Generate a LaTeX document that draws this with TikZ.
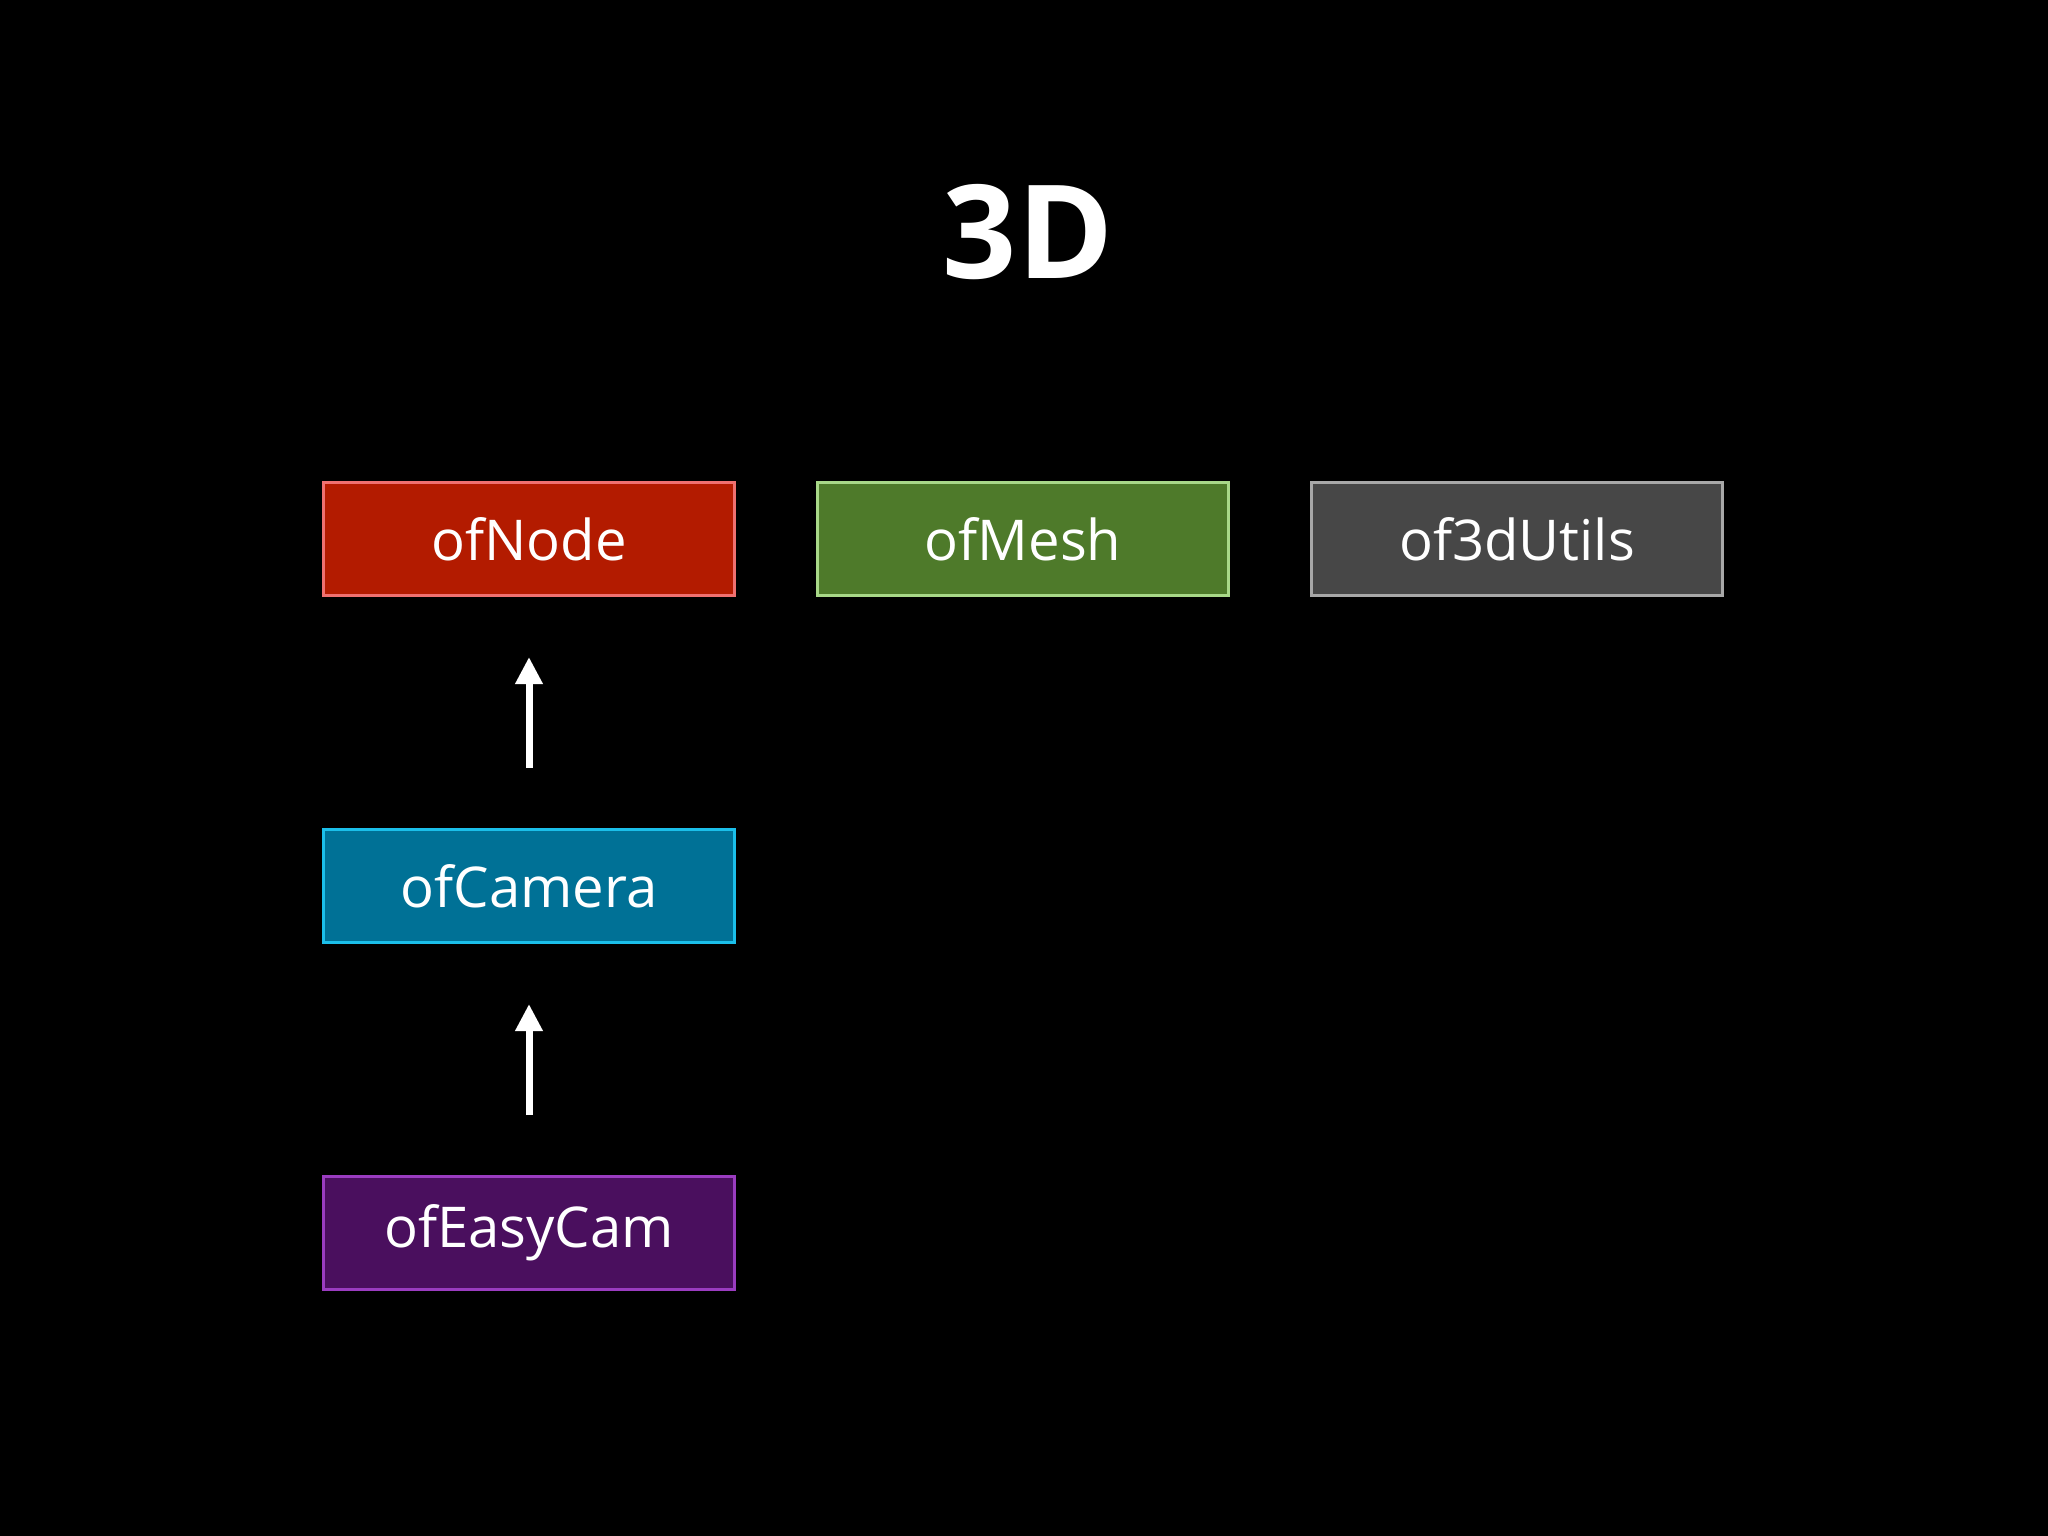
\documentclass[tikz,border=0pt]{standalone}
\usepackage{fontspec}
\setmainfont{Open Sans}
\usepackage{tikz}
\usetikzlibrary{positioning,arrows.meta}
\definecolor{noderd}{RGB}{179, 27, 0}
\definecolor{noderdline}{RGB}{240, 112, 112}
\definecolor{meshgr}{RGB}{78, 122, 42}
\definecolor{meshgrline}{RGB}{168, 216, 136}
\definecolor{utilgy}{RGB}{71, 71, 71}
\definecolor{utilgyline}{RGB}{168, 168, 168}
\definecolor{cambl}{RGB}{0, 113, 150}
\definecolor{camblline}{RGB}{27, 191, 234}
\definecolor{easypu}{RGB}{74, 15, 94}
\definecolor{easypuline}{RGB}{154, 60, 192}

\begin{document}
\begin{tikzpicture}[
    hdist/.style={right=0.8cm of #1},
    vdist/.style={below=2.31cm of #1},
    box/.style={draw=#1line,fill=#1,line width=0.03cm,
                minimum width=4.11cm,minimum height=1.13cm,inner sep=0pt,
                align=center,text=white,font=\fontsize{16}{19}\selectfont},
    arr/.style={-{Triangle[length=0.27cm,width=0.26cm]},line width=0.07cm,white,
                shorten <=0.6cm,shorten >=0.6cm}
]
\fill[black] (0,0) rectangle (20.48,-15.36);
\useasboundingbox (0,0) rectangle (20.48,-15.36);
\node[text=white,font=\fontsize{37}{44}\selectfont\bfseries] (title) at (10.28,-2.32) {3D};
\node[box=noderd] (nd) at (5.29,-5.39) {ofNode};
\node[box=meshgr, hdist=nd] (msh) {ofMesh};
\node[box=utilgy, hdist=msh] (utl) {of3dUtils};
\node[box=cambl, vdist=nd] (cam) {ofCamera};
\node[box=easypu, vdist=cam] (ecam) {ofEasyCam};
\draw[arr] (cam) -- (nd);
\draw[arr] (ecam) -- (cam);
\end{tikzpicture}
\end{document}
